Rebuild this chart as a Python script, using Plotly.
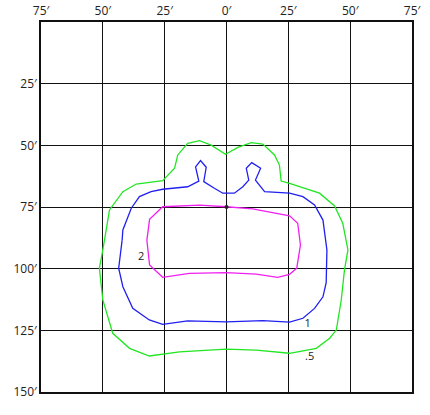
import plotly.graph_objects as go

# Isoline data (feet): x horizontal offset, y distance (down)
green_x = [-50.0, -47.3, -41.9, -36.5, -25.8, -21.0, -19.7, -15.7, -10.9, -6.2, -0.4, 4.6, 10.0, 14.7, 19.4, 21.4, 22.1, 25.5, 37.6, 43.7, 47.0, 49.1, 47.7, 46.4, 44.4, 41.7, 36.3, 25.5, 12.0, -0.1, -19.0, -31.2, -39.2, -46.0, -50.0, -51.4, -50.0]
green_y = [92.4, 76.2, 68.8, 65.7, 64.3, 59.3, 53.9, 49.2, 48.1, 49.9, 53.6, 50.8, 48.9, 49.5, 53.9, 58.0, 64.5, 65.4, 69.4, 74.6, 81.6, 92.4, 100.5, 112.7, 124.9, 128.2, 132.3, 134.3, 133.0, 132.6, 133.7, 135.4, 132.3, 126.2, 112.7, 99.8, 92.4]

blue_x = [-42.2, -41.9, -38.5, -35.2, -30.5, -25.8, -15.7, -11.2, -12.5, -10.5, -8.2, -9.2, -4.9, -1.5, 3.2, 6.6, 9.0, 8.0, 10.2, 13.8, 11.7, 15.4, 25.5, 30.9, 35.6, 39.0, 40.6, 40.3, 39.0, 35.6, 30.9, 25.5, 14.7, -0.1, -15.7, -25.8, -31.2, -37.9, -41.9, -43.6, -42.2]
blue_y = [88.4, 84.3, 75.5, 70.8, 68.8, 67.8, 66.8, 64.5, 58.7, 56.2, 58.9, 64.7, 67.4, 69.4, 69.4, 66.8, 64.1, 59.3, 57.0, 59.3, 64.1, 68.8, 69.4, 70.8, 74.2, 80.3, 92.4, 105.7, 111.4, 116.1, 120.1, 121.7, 121.1, 121.6, 121.2, 122.6, 120.8, 116.1, 107.3, 99.8, 88.4]

magenta_x = [-32.2, -31.1, -25.8, -10.9, -0.1, 10.6, 25.5, 28.8, 29.9, 28.4, 25.5, 20.7, 12.0, -0.1, -15.0, -25.8, -31.1, -32.2]
magenta_y = [88.4, 80.0, 74.9, 74.2, 74.9, 75.8, 78.6, 81.6, 90.4, 99.8, 102.3, 103.5, 102.2, 101.6, 101.9, 103.5, 98.5, 88.4]

label_text = ["2", "1", ".5"]
label_x = [-34.5, 32.8, 33.6]
label_y = [95.4, 122.6, 135.9]

x_ticks = [-75, -50, -25, 0, 25, 50, 75]
x_ticktext = ["75′", "50′", "25′", "0′", "25′", "50′", "75′"]
y_ticks = [25, 50, 75, 100, 125, 150]
y_ticktext = ["25′", "50′", "75′", "100′", "125′", "150′"]

fig = go.Figure()
for xs, ys, col in [(green_x, green_y, "#22e622"), (blue_x, blue_y, "#2020f0"), (magenta_x, magenta_y, "#f020f0")]:
    fig.add_trace(go.Scatter(x=xs, y=ys, mode="lines", line=dict(color=col, width=1.3),
                             hoverinfo="skip", showlegend=False, cliponaxis=False))
fig.add_trace(go.Scatter(x=[0], y=[75], mode="markers", marker=dict(color="#222", size=4),
                         showlegend=False, hoverinfo="skip"))
fig.add_trace(go.Scatter(x=label_x, y=label_y, mode="text", text=label_text,
                         textfont=dict(size=11, color="#222", family="Open Sans"),
                         showlegend=False, hoverinfo="skip"))

fig.update_layout(
    width=430, height=415,
    margin=dict(l=41, r=18, t=22, b=23, autoexpand=False),
    plot_bgcolor="white", paper_bgcolor="white",
    font=dict(family="Open Sans", size=12, color="#222"),
    xaxis=dict(range=[-75, 75], side="top", tickvals=x_ticks, ticktext=x_ticktext,
               showgrid=True, gridcolor="#111", gridwidth=1, zeroline=False,
               showline=True, linecolor="#111", linewidth=1.5, mirror=True,
               ticks="", fixedrange=True, automargin=False),
    yaxis=dict(range=[150, 0], tickvals=y_ticks, ticktext=y_ticktext,
               showgrid=True, gridcolor="#111", gridwidth=1, zeroline=False,
               showline=True, linecolor="#111", linewidth=1.5, mirror=True,
               ticks="", fixedrange=True, automargin=False),
)
fig.write_html("out.html", config={"displayModeBar": False},
               post_script="document.body.style.margin='0';document.body.style.overflow='hidden';")
